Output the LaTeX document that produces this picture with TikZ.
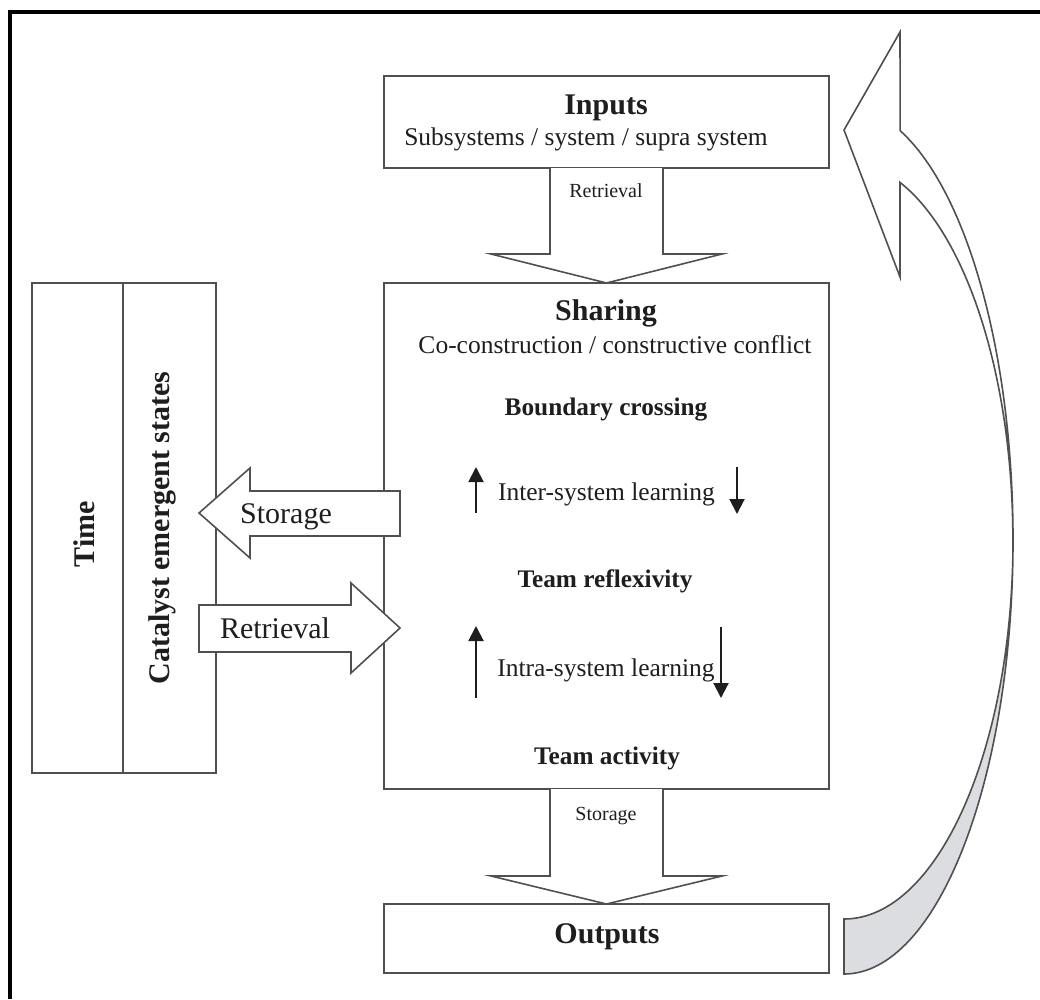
\documentclass[tikz,border=0pt]{standalone}
\usepackage{fontspec}
\setmainfont{Liberation Serif}
\usetikzlibrary{arrows.meta,calc}
\definecolor{edge}{HTML}{505050}
\definecolor{band}{HTML}{DCDDE0}
\definecolor{ink}{HTML}{1E1E1E}
\begin{document}
\begin{tikzpicture}[x=1pt,y=1pt,
  box/.style={draw=edge, line width=1.6pt, inner sep=0pt, outer sep=0pt, fill=white},
  blockarrow/.style={draw=edge, line width=1.6pt, fill=white, line join=miter},
  head/.style={font=\fontsize{30}{34}\selectfont\bfseries, text=ink, inner sep=0pt, anchor=base},
  body/.style={font=\fontsize{25.5}{30}\selectfont, text=ink, inner sep=0pt, anchor=base},
  bodybf/.style={font=\fontsize{25.3}{30}\selectfont\bfseries, text=ink, inner sep=0pt, anchor=base},
  small/.style={font=\fontsize{20}{24}\selectfont, text=ink, inner sep=0pt, anchor=base},
  side/.style={font=\fontsize{30}{34}\selectfont, text=ink, inner sep=0pt, anchor=base},
  updown/.style={draw=ink, line width=2pt, -{Triangle[width=15pt,length=15pt]}}
]
\useasboundingbox (0,0) rectangle (1040,-999);

% outer frame (top and left edges)
\draw[line width=4pt, line join=miter] (10,-999) -- (10,-11.5) -- (1040,-11.5);

% main boxes
\node[box, minimum width=445, minimum height=92]  (inputs)   at (606.5,-122)   {};
\node[box, minimum width=445, minimum height=506] (sharing)  at (606.5,-536)   {};
\node[box, minimum width=445, minimum height=69]  (outputs)  at (606.5,-938.5) {};
\node[box, minimum width=91,  minimum height=490] (time)     at (77.5,-528)    {};
\node[box, minimum width=93,  minimum height=490] (catalyst) at (169.5,-528)   {};

% block arrows between the central boxes
\draw[blockarrow] (550,-168) -- (550,-254) -- (491,-254) -- (sharing.north)
  -- (722,-254) -- (663,-254) -- (663,-168);
\draw[blockarrow] (550,-789) -- (550,-876) -- (491,-876) -- (outputs.north)
  -- (722,-876) -- (663,-876) -- (663,-789);

% block arrows between the sharing box and the side column
\coordinate (stTip) at (199,-513);
\coordinate (reTip) at (400,-628);
\draw[blockarrow] (400,-491) -- (250,-491) -- (250,-468) -- (stTip)
  -- (250,-558) -- (250,-536) -- (400,-536) -- cycle;
\draw[blockarrow] (199,-605) -- (351,-605) -- (351,-583) -- (reTip)
  -- (351,-673) -- (351,-652) -- (199,-652) -- cycle;

% curved feedback arrow: shaded lower band and white upper band with head
\path[draw=edge, fill=band, line width=1.6pt]
  (844,-974) arc[start angle=-90, end angle=0, x radius=169, y radius=434]
  arc[start angle=0, end angle=-90, x radius=169, y radius=379] -- cycle;
\coordinate (fbTip) at (844,-130);
\path[draw=edge, fill=white, line width=1.6pt, line join=miter]
  (1013,-540) arc[start angle=0, end angle=70.6, x radius=169, y radius=434]
  -- (900,-32) -- (fbTip) -- (900,-277) -- (900,-182.4)
  arc[start angle=70.6, end angle=0, x radius=169, y radius=379];

% texts
\node[head] (tInputs) at (606,-114) {Inputs};
\node[body] (tSub) at (586,-145) {Subsystems / system / supra system};
\node[small] (tRet1) at (606,-197) {Retrieval};
\node[head] (tSharing) at (606,-320) {Sharing};
\node[body] (tCo) at (615,-353) {Co-construction / constructive conflict};
\node[bodybf] (tBound) at (606,-415) {Boundary crossing};
\node[body] (tInter) at (606.5,-500) {Inter-system learning};
\node[bodybf] (tRefl) at (605,-587) {Team reflexivity};
\node[body] (tIntra) at (606,-676) {Intra-system learning};
\node[bodybf] (tAct) at (607,-764) {Team activity};
\node[small] (tSto1) at (606,-820) {Storage};
\node[head] (tOut) at (607,-943) {Outputs};
\node[side] (tSto2) at (286,-523) {Storage};
\node[side] (tRet2) at (275,-638) {Retrieval};
\node[head, rotate=90] (tTime) at (94,-534) {Time};
\node[head, rotate=90] (tCat) at (169,-528) {Catalyst emergent states};

% small up/down arrows beside the learning labels
\coordinate (a1s) at (476,-513); \coordinate (a1e) at (476,-467);
\coordinate (a2s) at (737,-467); \coordinate (a2e) at (737,-514);
\coordinate (a3s) at (476,-698); \coordinate (a3e) at (476,-626);
\coordinate (a4s) at (721,-627); \coordinate (a4e) at (721,-698);
\draw[updown] (a1s) -- (a1e);
\draw[updown] (a2s) -- (a2e);
\draw[updown] (a3s) -- (a3e);
\draw[updown] (a4s) -- (a4e);
\end{tikzpicture}
\end{document}
